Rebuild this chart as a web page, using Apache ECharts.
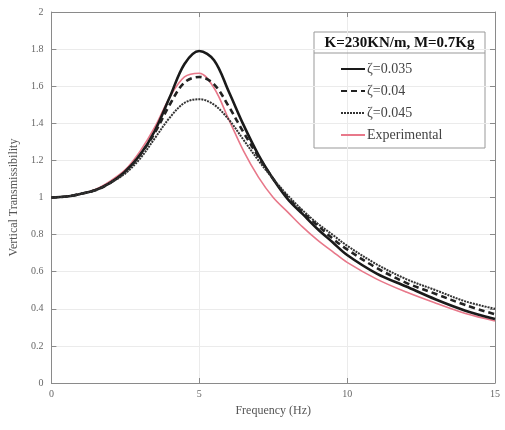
<!DOCTYPE html>
<html><head><meta charset="utf-8">
<script src="https://cdn.jsdelivr.net/npm/echarts@6/dist/echarts.min.js"></script>
<style>html,body{margin:0;padding:0;background:#fff}#c{width:505px;height:430px}</style>
</head><body><div id="c"></div>
<script>
var freq = [0,0.5,1,1.5,2,2.5,3,3.5,4,4.5,5,5.5,6,6.5,7,7.5,8,8.5,9,9.5,10,11,12,13,14,15];
var zeta035 = [1.00,1.005,1.02,1.04,1.08,1.14,1.23,1.36,1.54,1.72,1.79,1.74,1.57,1.39,1.23,1.10,0.99,0.91,0.83,0.76,0.69,0.59,0.52,0.45,0.39,0.345];
var zeta040 = [1.00,1.005,1.02,1.04,1.08,1.14,1.23,1.35,1.50,1.62,1.65,1.61,1.49,1.35,1.22,1.10,1.00,0.92,0.85,0.78,0.72,0.62,0.54,0.48,0.42,0.37];
var zeta045 = [1.00,1.005,1.02,1.04,1.08,1.13,1.21,1.32,1.43,1.51,1.53,1.50,1.42,1.31,1.20,1.10,1.01,0.93,0.86,0.80,0.74,0.64,0.56,0.50,0.44,0.40];
var experimental = [1.00,1.005,1.02,1.045,1.09,1.15,1.25,1.38,1.54,1.65,1.67,1.59,1.42,1.25,1.11,1.00,0.92,0.84,0.77,0.71,0.65,0.56,0.49,0.43,0.375,0.335];
var seriesNames = ['ζ=0.035','ζ=0.04','ζ=0.045','Experimental'];
var yTicks = ['0','0.2','0.4','0.6','0.8','1','1.2','1.4','1.6','1.8','2'];
var legendTitle = 'K=230KN/m, M=0.7Kg';

function pairs(v){ return freq.map(function(f,i){ return [f, v[i]]; }); }
var font = 'Liberation Serif';
var chart = echarts.init(document.getElementById('c'), null, {renderer:'canvas'});
var axisColor = '#8a8a8a';
chart.setOption({
  animation:false,
  backgroundColor:'#fff',
  grid:{left:50,right:10,top:12,bottom:47,show:false},
  xAxis:[{
    type:'value',min:0,max:15,interval:5,
    name:'Frequency (Hz)',nameLocation:'middle',nameGap:22,
    nameTextStyle:{fontFamily:font,fontSize:12,color:'#555'},
    axisLine:{show:true,onZero:false,lineStyle:{color:axisColor,width:1}},
    axisTick:{show:true,inside:true,length:5,lineStyle:{color:axisColor}},
    axisLabel:{fontFamily:font,fontSize:10,color:'#666',margin:6},
    splitLine:{show:true,lineStyle:{color:'#ebebeb',width:1}}
  },{
    type:'value',min:0,max:15,interval:5,position:'top',
    axisLine:{show:true,onZero:false,lineStyle:{color:axisColor,width:1}},
    axisTick:{show:true,inside:true,length:5,lineStyle:{color:axisColor}},
    axisLabel:{show:false},splitLine:{show:false}
  }],
  yAxis:[{
    type:'value',min:0,max:2,interval:0.2,
    name:'Vertical Transmissibility',nameLocation:'middle',nameGap:30,
    nameTextStyle:{fontFamily:font,fontSize:12,color:'#555'},
    axisLine:{show:true,onZero:false,lineStyle:{color:axisColor,width:1}},
    axisTick:{show:true,inside:true,length:5,lineStyle:{color:axisColor}},
    axisLabel:{fontFamily:font,fontSize:10,color:'#666',margin:8,
      formatter:function(v){ var i=Math.round(v/0.2); return yTicks[i]; }},
    splitLine:{show:true,lineStyle:{color:'#ebebeb',width:1}}
  },{
    type:'value',min:0,max:2,interval:0.2,position:'right',
    axisLine:{show:true,onZero:false,lineStyle:{color:axisColor,width:1}},
    axisTick:{show:true,inside:true,length:5,lineStyle:{color:axisColor}},
    axisLabel:{show:false},splitLine:{show:false}
  }],
  legend:{
    orient:'vertical',left:340,top:62,itemGap:8,itemWidth:24,itemHeight:13,
    data:seriesNames,
    itemStyle:{opacity:0},
    textStyle:{fontFamily:font,fontSize:14,color:'#444',padding:[0,0,0,-3]},
    padding:0
  },
  graphic:[
    {type:'rect',shape:{x:314,y:32,width:171,height:116},style:{fill:'#fff',stroke:'#999',lineWidth:1},z:0},
    {type:'line',shape:{x1:314,y1:53,x2:485,y2:53},style:{stroke:'#999',lineWidth:1},z:1},
    {type:'text',x:399.5,y:43,style:{text:legendTitle,fontFamily:font,fontSize:15,fontWeight:'bold',fill:'#111',align:'center',verticalAlign:'middle'},z:1}
  ],
  series:[
    {name:seriesNames[0],type:'line',data:pairs(zeta035),smooth:0.35,showSymbol:false,symbol:'none',
      lineStyle:{color:'#1a1a1a',width:2.6,type:'solid'},itemStyle:{color:'#1a1a1a'},z:4},
    {name:seriesNames[1],type:'line',data:pairs(zeta040),smooth:0.35,showSymbol:false,symbol:'none',
      lineStyle:{color:'#222',width:2.6,type:[6,4]},itemStyle:{color:'#222'},z:4},
    {name:seriesNames[2],type:'line',data:pairs(zeta045),smooth:0.35,showSymbol:false,symbol:'none',
      lineStyle:{color:'#333',width:2,type:[2,1]},itemStyle:{color:'#333'},z:4},
    {name:seriesNames[3],type:'line',data:pairs(experimental),smooth:0.35,showSymbol:false,symbol:'none',
      lineStyle:{color:'#e8788a',width:1.6,type:'solid'},itemStyle:{color:'#e8788a'},z:3}
  ]
});
</script></body></html>
